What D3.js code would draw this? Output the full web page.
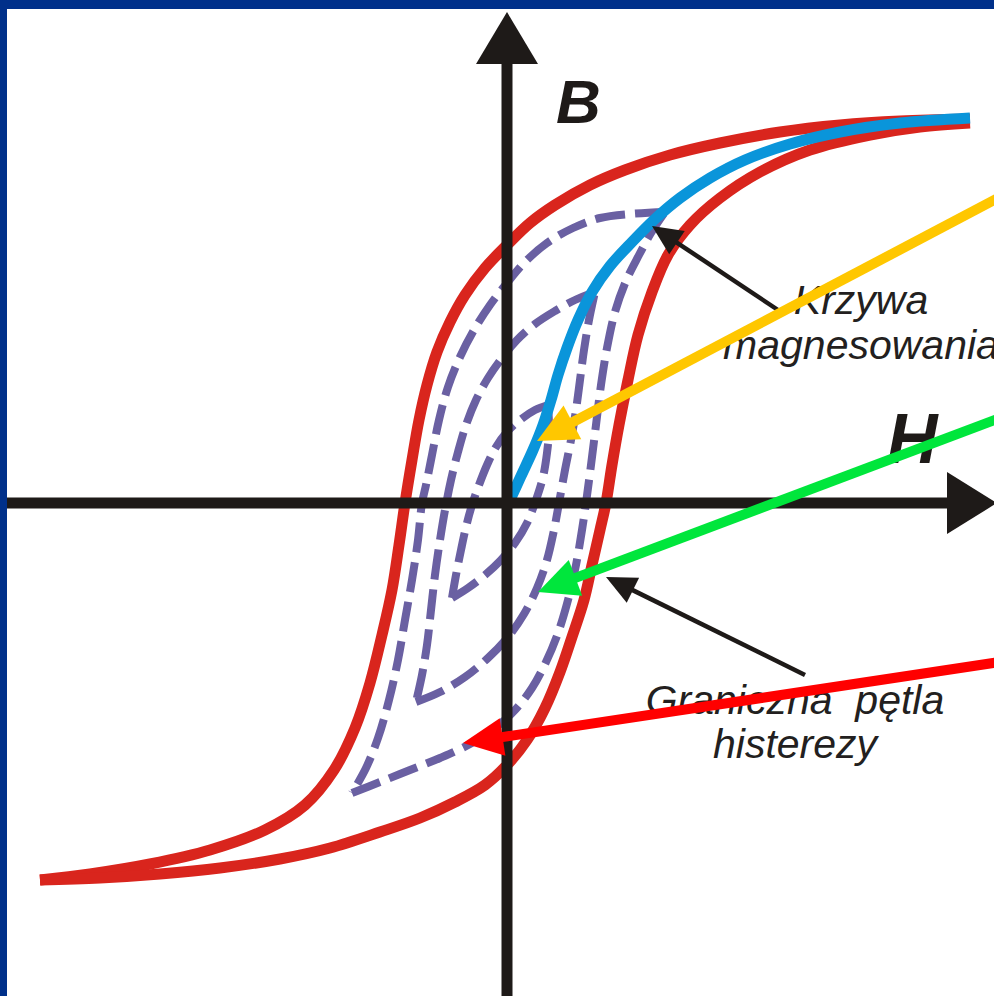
<!DOCTYPE html>
<html><head><meta charset="utf-8">
<script src="https://cdn.jsdelivr.net/npm/d3@7"></script>
<style>html,body{margin:0;padding:0;background:#fff;overflow:hidden}svg{display:block}</style>
</head><body>
<svg id="chart" width="994" height="996"></svg>
<script>
// ---- data: (H, B) pairs in diagram units, origin at the axes crossing (1 unit = 100 px) ----
const redUpper = [[4.63,3.84],[3.93,3.82],[3.33,3.78],[2.73,3.71],[2.13,3.60],[1.63,3.48],[1.18,3.33],[0.83,3.18],[0.48,2.98],[0.23,2.80],[0.00,2.58],[-0.22,2.35],[-0.42,2.08],[-0.57,1.81],[-0.70,1.51],[-0.80,1.18],[-0.88,0.83],[-0.95,0.43],[-1.02,0],[-1.08,-0.42],[-1.15,-0.87],[-1.25,-1.32],[-1.37,-1.80],[-1.52,-2.25],[-1.73,-2.67],[-2.02,-3.02],[-2.42,-3.27],[-2.97,-3.47],[-3.57,-3.61],[-4.17,-3.71],[-4.67,-3.77]];
const redLower = [[-4.67,-3.77],[-4.07,-3.75],[-3.47,-3.71],[-2.87,-3.65],[-2.27,-3.56],[-1.77,-3.45],[-1.27,-3.29],[-0.87,-3.15],[-0.52,-2.99],[-0.22,-2.82],[0.00,-2.62],[0.20,-2.37],[0.38,-2.05],[0.53,-1.69],[0.65,-1.34],[0.77,-0.97],[0.85,-0.62],[0.93,-0.27],[0.99,0],[1.05,0.38],[1.12,0.78],[1.21,1.23],[1.31,1.68],[1.45,2.11],[1.61,2.48],[1.83,2.78],[2.13,3.05],[2.53,3.31],[3.03,3.53],[3.63,3.68],[4.13,3.76],[4.63,3.80]];
const magnetization = [[0.03,0.03],[0.14,0.27],[0.26,0.53],[0.36,0.78],[0.44,1.03],[0.51,1.28],[0.60,1.55],[0.71,1.83],[0.85,2.11],[1.03,2.37],[1.25,2.61],[1.48,2.84],[1.73,3.05],[2.03,3.25],[2.38,3.43],[2.83,3.59],[3.33,3.71],[3.93,3.80],[4.63,3.85]];
const loop3Down = [[1.58,2.91],[1.23,2.89],[0.93,2.85],[0.66,2.75],[0.40,2.60],[0.18,2.41],[0.00,2.20],[-0.17,1.98],[-0.33,1.73],[-0.47,1.46],[-0.59,1.16],[-0.68,0.83],[-0.75,0.48],[-0.81,0.18],[-0.85,0],[-0.89,-0.37],[-0.95,-0.77],[-1.02,-1.17],[-1.09,-1.57],[-1.18,-1.97],[-1.29,-2.35],[-1.41,-2.65],[-1.55,-2.90]];
const loop3Up = [[-1.55,-2.90],[-1.27,-2.79],[-0.97,-2.67],[-0.67,-2.55],[-0.37,-2.41],[-0.12,-2.25],[0.08,-2.07],[0.25,-1.85],[0.39,-1.59],[0.51,-1.30],[0.61,-0.97],[0.69,-0.62],[0.75,-0.27],[0.79,0],[0.84,0.38],[0.89,0.78],[0.94,1.18],[1.00,1.55],[1.08,1.91],[1.19,2.22],[1.32,2.48],[1.44,2.70],[1.58,2.91]];
const loop2Down = [[0.88,2.11],[0.68,2.03],[0.48,1.92],[0.28,1.79],[0.10,1.63],[-0.05,1.45],[-0.19,1.25],[-0.31,1.03],[-0.41,0.78],[-0.49,0.51],[-0.56,0.23],[-0.62,-0.07],[-0.67,-0.37],[-0.72,-0.72],[-0.76,-1.07],[-0.80,-1.42],[-0.85,-1.72],[-0.91,-1.99]];
const loop2Up = [[-0.91,-1.99],[-0.67,-1.89],[-0.42,-1.74],[-0.19,-1.55],[0.01,-1.34],[0.17,-1.11],[0.30,-0.85],[0.40,-0.57],[0.47,-0.27],[0.52,0],[0.58,0.33],[0.64,0.63],[0.69,0.93],[0.73,1.23],[0.77,1.53],[0.82,1.83],[0.88,2.11]];
const loop1Down = [[0.41,0.98],[0.28,0.93],[0.13,0.83],[0.00,0.71],[-0.11,0.56],[-0.20,0.38],[-0.28,0.18],[-0.35,-0.02],[-0.41,-0.24],[-0.46,-0.47],[-0.51,-0.72],[-0.55,-0.95]];
const loop1Up = [[-0.55,-0.95],[-0.39,-0.85],[-0.22,-0.72],[-0.06,-0.57],[0.08,-0.40],[0.20,-0.20],[0.29,0.03],[0.36,0.26],[0.40,0.50],[0.42,0.73],[0.41,0.98]];
const pointerArrows = [
  {name:"krzywa", from:[2.71,1.93], to:[1.45,2.77]},
  {name:"graniczna", from:[2.98,-1.72], to:[0.99,-0.74]}
];
const colourArrows = [
  {name:"yellow", from:[4.93,3.06], to:[0.30,0.62]},
  {name:"green", from:[4.93,0.85], to:[0.31,-0.89]},
  {name:"red", from:[4.93,-1.59], to:[-0.44,-2.40]}
];
const axisLabels = ["B","H"];
const labelLines1 = ["Krzywa","magnesowania"];
const labelLines2 = ["Graniczna  pętla","histerezy"];

// ---- drawing ----
const W = 994, H = 996;
const svg = d3.select("#chart");
const x = d3.scaleLinear().domain([-5,5]).range([7,1007]);
const y = d3.scaleLinear().domain([-5,5]).range([1003,3]);
const line = d3.line().x(d=>x(d[0])).y(d=>y(d[1])).curve(d3.curveCatmullRom.alpha(0.5));

svg.append("rect").attr("width",W).attr("height",H).attr("fill","#fff");

const RED = "#d9251d", BLUE = "#0a95da", PURPLE = "#6a60a2", BLACK = "#1e1a18";

// outer limit loop
[redUpper, redLower].forEach(d=>{
  svg.append("path").attr("d",line(d)).attr("fill","none").attr("stroke",RED)
    .attr("stroke-width",11).attr("stroke-linejoin","round");
});
// minor loops
[loop3Down, loop3Up, loop2Down, loop2Up, loop1Down, loop1Up].forEach(d=>{
  svg.append("path").attr("d",line(d)).attr("fill","none").attr("stroke",PURPLE)
    .attr("stroke-width",8).attr("stroke-dasharray","30,10");
});
// magnetization curve
svg.append("path").attr("d",line(magnetization)).attr("fill","none").attr("stroke",BLUE)
  .attr("stroke-width",11);

// axes
const ox = x(0), oy = y(0);
svg.append("line").attr("x1",x(-5)).attr("x2",947).attr("y1",oy).attr("y2",oy)
  .attr("stroke",BLACK).attr("stroke-width",11);
svg.append("path").attr("d",`M947,${oy-31}L997,${oy}L947,${oy+31}Z`).attr("fill",BLACK);
svg.append("line").attr("x1",ox).attr("x2",ox).attr("y1",H).attr("y2",62)
  .attr("stroke",BLACK).attr("stroke-width",11);
svg.append("path").attr("d",`M${ox-31},64L${ox},12L${ox+31},64Z`).attr("fill",BLACK);

// labels
svg.append("text").text(axisLabels[0]).attr("x",556).attr("y",123)
  .attr("font-family","Liberation Sans, Arial, sans-serif").attr("font-weight","bold")
  .attr("font-style","italic").attr("font-size",62).attr("fill",BLACK);
svg.append("text").text(axisLabels[1]).attr("x",887).attr("y",463)
  .attr("font-family","Liberation Sans, Arial, sans-serif").attr("font-weight","bold")
  .attr("font-style","italic").attr("font-size",70).attr("fill",BLACK);

function textBlock(lines, cx, y0, dy){
  const t = svg.append("text").attr("font-family","Liberation Sans, Arial, sans-serif")
    .attr("font-style","italic").attr("font-size",41).attr("fill","#231f20")
    .attr("text-anchor","middle").style("white-space","pre");
  lines.forEach((s,i)=>t.append("tspan").attr("x",cx).attr("y",y0+i*dy).text(s));
}
textBlock(labelLines1, 861, 314, 45);
textBlock(labelLines2, 795, 714, 44);

// arrows
function arrow(a, colour, width, hl, hw){
  const x1=x(a.from[0]), y1=y(a.from[1]), x2=x(a.to[0]), y2=y(a.to[1]);
  const dx=x2-x1, dy=y2-y1, L=Math.hypot(dx,dy), ux=dx/L, uy=dy/L;
  const bx=x2-ux*hl, by=y2-uy*hl;
  svg.append("line").attr("x1",x1).attr("y1",y1).attr("x2",bx+ux*2).attr("y2",by+uy*2)
    .attr("stroke",colour).attr("stroke-width",width);
  svg.append("path").attr("d",`M${x2},${y2}L${bx-uy*hw},${by+ux*hw}L${bx+uy*hw},${by-ux*hw}Z`)
    .attr("fill",colour);
}
pointerArrows.forEach(a=>arrow(a, BLACK, 4.5, 30, 14));
const cmap = {yellow:"#ffc700", green:"#00e63c", red:"#ff0000"};
colourArrows.forEach(a=>arrow(a, cmap[a.name], 10, 40, 19));

// frame
svg.append("rect").attr("x",0).attr("y",0).attr("width",W).attr("height",9).attr("fill","#00308a");
svg.append("rect").attr("x",0).attr("y",0).attr("width",7).attr("height",H).attr("fill","#00308a");
</script>
</body></html>
